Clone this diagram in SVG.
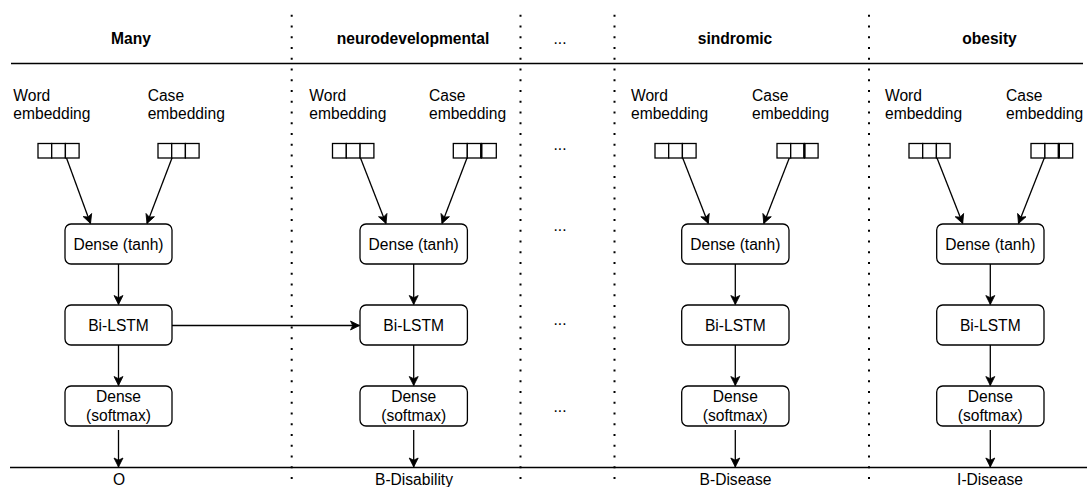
<svg xmlns="http://www.w3.org/2000/svg" width="1087" height="487" viewBox="0 0 1087 487">
<style>
text{font-family:"Liberation Sans",Arial,sans-serif;font-size:15.6px;fill:#000}
.h{font-weight:bold}
.c{text-anchor:middle}
.box{fill:#fff;stroke:#000;stroke-width:1.3}
.cell{fill:#fff;stroke:#000;stroke-width:1.3}
.ln{stroke:#000;stroke-width:1.3;fill:none}
.rule{stroke:#000;stroke-width:1.5;fill:none}
.dot{stroke:#000;stroke-width:2;stroke-dasharray:2 8.75;fill:none}
</style>
<defs>
<marker id="arr" markerUnits="userSpaceOnUse" markerWidth="12" markerHeight="12" viewBox="-10 -6 12 12" refX="0" refY="0" orient="auto">
<path d="M-9,-4.5 L0,0 L-9,4.5 L-6.8,0 Z" fill="#000" stroke="#000" stroke-width="0.8"/>
</marker>
</defs>
<g id="frame">
<line class="rule" x1="11" y1="63.5" x2="1083" y2="63.5"/>
<line class="rule" x1="10" y1="467.5" x2="1087" y2="467.5"/>
<line class="dot" x1="291.7" y1="14.7" x2="291.7" y2="487"/>
<line class="dot" x1="520.5" y1="14.7" x2="520.5" y2="487"/>
<line class="dot" x1="614.5" y1="14.7" x2="614.5" y2="487"/>
<line class="dot" x1="869" y1="14.7" x2="869" y2="487"/>
</g>
<g id="headers">
<text class="h c" x="131" y="43.5">Many</text>
<text class="h c" x="413" y="43.5">neurodevelopmental</text>
<text class="c" x="560" y="43.5">...</text>
<text class="h c" x="735" y="43.5">sindromic</text>
<text class="h c" x="989.5" y="43.5">obesity</text>
</g>
<g id="ellipses">
<text class="c" x="560" y="150">...</text>
<text class="c" x="560" y="231">...</text>
<text class="c" x="560" y="325">...</text>
<text class="c" x="560" y="411.5">...</text>
</g>
<g id="connectors">
<line class="ln" x1="66.5" y1="158" x2="90.5" y2="223.5" marker-end="url(#arr)"/>
<line class="ln" x1="172" y1="158" x2="147" y2="223.5" marker-end="url(#arr)"/>
<line class="ln" x1="118.5" y1="264" x2="118.5" y2="304.5" marker-end="url(#arr)"/>
<line class="ln" x1="118.5" y1="345" x2="118.5" y2="385.5" marker-end="url(#arr)"/>
<line class="ln" x1="118.5" y1="430" x2="118.5" y2="467" marker-end="url(#arr)"/>
<line class="ln" x1="172" y1="325.5" x2="359.5" y2="325.5" marker-end="url(#arr)"/>

<line class="ln" x1="360.5" y1="158" x2="386" y2="223.5" marker-end="url(#arr)"/>
<line class="ln" x1="467" y1="158" x2="442" y2="223.5" marker-end="url(#arr)"/>
<line class="ln" x1="413.7" y1="264" x2="413.7" y2="304.5" marker-end="url(#arr)"/>
<line class="ln" x1="413.7" y1="345" x2="413.7" y2="385.5" marker-end="url(#arr)"/>
<line class="ln" x1="413.7" y1="430" x2="413.7" y2="467" marker-end="url(#arr)"/>

<line class="ln" x1="682.7" y1="158" x2="708.3" y2="223.5" marker-end="url(#arr)"/>
<line class="ln" x1="789.3" y1="158" x2="763.8" y2="223.5" marker-end="url(#arr)"/>
<line class="ln" x1="735.3" y1="264" x2="735.3" y2="304.5" marker-end="url(#arr)"/>
<line class="ln" x1="735.3" y1="345" x2="735.3" y2="385.5" marker-end="url(#arr)"/>
<line class="ln" x1="735.3" y1="430" x2="735.3" y2="467" marker-end="url(#arr)"/>

<line class="ln" x1="937" y1="158" x2="962.7" y2="223.5" marker-end="url(#arr)"/>
<line class="ln" x1="1044.3" y1="158" x2="1018.5" y2="223.5" marker-end="url(#arr)"/>
<line class="ln" x1="990.3" y1="264" x2="990.3" y2="304.5" marker-end="url(#arr)"/>
<line class="ln" x1="990.3" y1="345" x2="990.3" y2="385.5" marker-end="url(#arr)"/>
<line class="ln" x1="990.3" y1="430" x2="990.3" y2="467" marker-end="url(#arr)"/>
</g>

<g id="col1">
<g id="word-emb-1"><text x="13.3" y="100.5">Word</text><text x="13.3" y="119">embedding</text>
<rect class="cell" x="38" y="143.5" width="13.7" height="14.5"/><rect class="cell" x="51.7" y="143.5" width="13.7" height="14.5"/><rect class="cell" x="65.4" y="143.5" width="13.7" height="14.5"/></g>
<g id="case-emb-1"><text x="147.7" y="100.5">Case</text><text x="147.7" y="119">embedding</text>
<rect class="cell" x="158" y="143.5" width="13.7" height="14.5"/><rect class="cell" x="171.7" y="143.5" width="13.7" height="14.5"/><rect class="cell" x="185.4" y="143.5" width="13.7" height="14.5"/></g>
<g id="dense-tanh-1"><rect class="box" x="65" y="224" width="107" height="40" rx="6"/><text class="c" x="118.5" y="250">Dense (tanh)</text></g>
<g id="bilstm-1"><rect class="box" x="65" y="305" width="107" height="40" rx="6"/><text class="c" x="118.5" y="331">Bi-LSTM</text></g>
<g id="dense-softmax-1"><rect class="box" x="65" y="386" width="107" height="40" rx="6"/><text class="c" x="118.5" y="401.5">Dense</text><text class="c" x="118.5" y="420.5">(softmax)</text></g>
<g id="out-1"><text class="c" x="119" y="485">O</text></g>
</g>

<g id="col2">
<g id="word-emb-2"><text x="309.3" y="100.5">Word</text><text x="309.3" y="119">embedding</text>
<rect class="cell" x="332.5" y="143.5" width="13.8" height="14.5"/><rect class="cell" x="346.3" y="143.5" width="13.8" height="14.5"/><rect class="cell" x="360.1" y="143.5" width="13.8" height="14.5"/></g>
<g id="case-emb-2"><text x="429" y="100.5">Case</text><text x="429" y="119">embedding</text>
<rect class="cell" x="453.3" y="143.5" width="14" height="14.5"/><rect class="cell" x="467.3" y="143.5" width="14" height="14.5"/><rect class="cell" x="481.3" y="143.5" width="15" height="14.5"/><line x1="481.3" y1="143.5" x2="481.3" y2="158" stroke="#000" stroke-width="2.4"/></g>
<g id="dense-tanh-2"><rect class="box" x="360" y="224" width="107.4" height="40" rx="6"/><text class="c" x="413.7" y="250">Dense (tanh)</text></g>
<g id="bilstm-2"><rect class="box" x="360" y="305" width="107.4" height="40" rx="6"/><text class="c" x="413.7" y="331">Bi-LSTM</text></g>
<g id="dense-softmax-2"><rect class="box" x="360" y="386" width="107.4" height="40" rx="6"/><text class="c" x="413.7" y="401.5">Dense</text><text class="c" x="413.7" y="420.5">(softmax)</text></g>
<g id="out-2"><text class="c" x="414" y="485">B-Disability</text></g>
</g>

<g id="col4">
<g id="word-emb-4"><text x="631" y="100.5">Word</text><text x="631" y="119">embedding</text>
<rect class="cell" x="655" y="143.5" width="13.7" height="14.5"/><rect class="cell" x="668.7" y="143.5" width="13.7" height="14.5"/><rect class="cell" x="682.4" y="143.5" width="13.7" height="14.5"/></g>
<g id="case-emb-4"><text x="752" y="100.5">Case</text><text x="752" y="119">embedding</text>
<rect class="cell" x="777" y="143.5" width="13.7" height="14.5"/><rect class="cell" x="790.7" y="143.5" width="13.7" height="14.5"/><rect class="cell" x="804.4" y="143.5" width="13.7" height="14.5"/><line x1="804.4" y1="143.5" x2="804.4" y2="158" stroke="#000" stroke-width="2.4"/></g>
<g id="dense-tanh-4"><rect class="box" x="681.7" y="224" width="107.3" height="40" rx="6"/><text class="c" x="735.3" y="250">Dense (tanh)</text></g>
<g id="bilstm-4"><rect class="box" x="681.7" y="305" width="107.3" height="40" rx="6"/><text class="c" x="735.3" y="331">Bi-LSTM</text></g>
<g id="dense-softmax-4"><rect class="box" x="681.7" y="386" width="107.3" height="40" rx="6"/><text class="c" x="735.3" y="401.5">Dense</text><text class="c" x="735.3" y="420.5">(softmax)</text></g>
<g id="out-4"><text class="c" x="735.5" y="485">B-Disease</text></g>
</g>

<g id="col5">
<g id="word-emb-5"><text x="885" y="100.5">Word</text><text x="885" y="119">embedding</text>
<rect class="cell" x="909" y="143.5" width="13.7" height="14.5"/><rect class="cell" x="922.7" y="143.5" width="13.7" height="14.5"/><rect class="cell" x="936.4" y="143.5" width="13.7" height="14.5"/></g>
<g id="case-emb-5"><text x="1006" y="100.5">Case</text><text x="1006" y="119">embedding</text>
<rect class="cell" x="1031" y="143.5" width="13.9" height="14.5"/><rect class="cell" x="1044.9" y="143.5" width="13.9" height="14.5"/><rect class="cell" x="1058.8" y="143.5" width="13.9" height="14.5"/><line x1="1058.8" y1="143.5" x2="1058.8" y2="158" stroke="#000" stroke-width="2.4"/></g>
<g id="dense-tanh-5"><rect class="box" x="936.7" y="224" width="107.3" height="40" rx="6"/><text class="c" x="990.3" y="250">Dense (tanh)</text></g>
<g id="bilstm-5"><rect class="box" x="936.7" y="305" width="107.3" height="40" rx="6"/><text class="c" x="990.3" y="331">Bi-LSTM</text></g>
<g id="dense-softmax-5"><rect class="box" x="936.7" y="386" width="107.3" height="40" rx="6"/><text class="c" x="990.3" y="401.5">Dense</text><text class="c" x="990.3" y="420.5">(softmax)</text></g>
<g id="out-5"><text class="c" x="990" y="485">I-Disease</text></g>
</g>
</svg>
